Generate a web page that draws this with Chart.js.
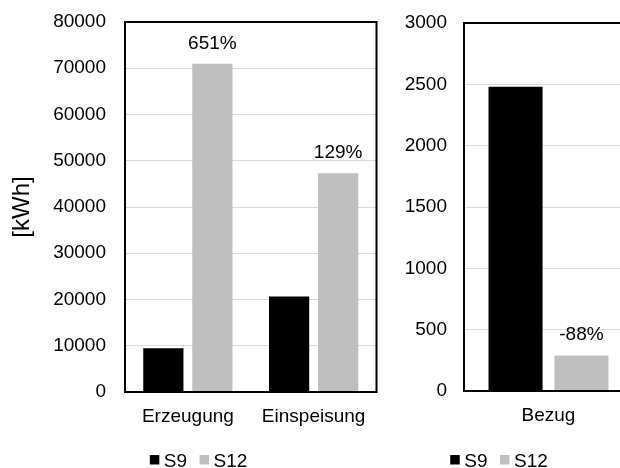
<!DOCTYPE html>
<html>
<head>
<meta charset="utf-8">
<script src="https://cdn.jsdelivr.net/npm/chart.js@4/dist/chart.umd.min.js"></script>
<style>
  html, body { margin: 0; padding: 0; background: #fff; overflow: hidden; width: 620px; height: 468px; }
  .panel { position: absolute; top: 0; }
  #left { left: 0; }
  #right { left: 390px; }
</style>
</head>
<body>
<div class="panel" id="left"><canvas id="c1" width="390" height="468"></canvas></div>
<div class="panel" id="right"><canvas id="c2" width="250" height="468"></canvas></div>
<script>
// Series
const seriesNames = ['S9', 'S12'];
const seriesColors = ['#000000', '#bfbfbf'];

// Left panel: generation and feed-in
const leftCategories = ['Erzeugung', 'Einspeisung'];
const leftS9 = [9450, 20650];
const leftS12 = [71000, 47300];
const leftTicks = [0, 10000, 20000, 30000, 40000, 50000, 60000, 70000, 80000];

// Right panel: grid purchase
const rightCategories = ['Bezug'];
const rightS9 = [2480];
const rightS12 = [290];
const rightTicks = [0, 500, 1000, 1500, 2000, 2500, 3000];

const FONT = "'Liberation Sans', Arial, sans-serif";
const TEXT = '#000000';

// Frame around the plot area, drawn over the bars like the axis line
const frame = {
  id: 'frame',
  afterDatasetsDraw(chart) {
    const { ctx, chartArea: a } = chart;
    ctx.save();
    ctx.strokeStyle = '#000';
    ctx.lineWidth = 2;
    ctx.strokeRect(a.left, a.top, a.right - a.left, a.bottom - a.top);
    ctx.restore();
  }
};

// Relative change of S12 against S9, written above each S12 bar
const changeLabels = {
  id: 'changeLabels',
  afterDatasetsDraw(chart) {
    const { ctx } = chart;
    const base = chart.data.datasets[0].data;
    const cur = chart.data.datasets[1].data;
    const meta = chart.getDatasetMeta(1);
    ctx.save();
    ctx.font = '19px ' + FONT;
    ctx.fillStyle = TEXT;
    ctx.textAlign = 'center';
    ctx.textBaseline = 'alphabetic';
    meta.data.forEach((el, i) => {
      const pct = Math.round((cur[i] / base[i] - 1) * 100);
      ctx.fillText(pct + '%', el.x, el.y - 15);
    });
    ctx.restore();
  }
};

// Compact legend (small squares, tight spacing) centred at a given x
function boxLegend(centerX) {
  return {
    id: 'boxLegend',
    afterDraw(chart) {
      const { ctx } = chart;
      const box = 9.5, gap = 4.5, spacing = 12.5, baseline = 466.5;
      ctx.save();
      ctx.font = '19px ' + FONT;
      ctx.textBaseline = 'alphabetic';
      ctx.textAlign = 'left';
      const items = chart.data.datasets.map(d => ({ label: d.label, color: d.backgroundColor, w: ctx.measureText(d.label).width }));
      const total = items.reduce((s, it) => s + box + gap + it.w, 0) + spacing * (items.length - 1);
      let x = centerX - total / 2;
      items.forEach(it => {
        ctx.fillStyle = it.color;
        ctx.fillRect(x, baseline - 11.5, box, box);
        x += box + gap;
        ctx.fillStyle = TEXT;
        ctx.fillText(it.label, x, baseline);
        x += it.w + spacing;
      });
      ctx.restore();
    }
  };
}

function makeChart(canvasId, categories, s9, s12, ticks, opts) {
  return new Chart(document.getElementById(canvasId), {
    type: 'bar',
    data: {
      labels: categories,
      datasets: [
        { label: seriesNames[0], data: s9, backgroundColor: seriesColors[0] },
        { label: seriesNames[1], data: s12, backgroundColor: seriesColors[1] }
      ]
    },
    options: {
      responsive: false,
      animation: false,
      devicePixelRatio: 1,
      layout: { padding: opts.padding },
      datasets: { bar: { categoryPercentage: 0.78, barPercentage: 0.82, borderWidth: 0 } },
      plugins: { legend: { display: false }, tooltip: { enabled: false } },
      scales: {
        x: {
          grid: { display: false, drawTicks: false },
          border: { display: false },
          ticks: { color: TEXT, font: { family: FONT, size: 19 }, padding: 13 },
          afterFit(scale) {
            scale.height = opts.xHeight;
            scale.paddingLeft = 0;
            scale.paddingRight = 0;
          }
        },
        y: {
          min: ticks[0],
          max: ticks[ticks.length - 1],
          grid: { color: '#d9d9d9', lineWidth: 1, drawTicks: false },
          border: { display: false },
          ticks: {
            color: TEXT,
            font: { family: FONT, size: 19 },
            padding: opts.tickPad,
            callback: v => String(v)
          },
          afterBuildTicks(scale) { scale.ticks = ticks.map(v => ({ value: v })); },
          title: opts.title
            ? { display: true, text: opts.title, color: TEXT, font: { family: FONT, size: 24 }, padding: 0 }
            : { display: false },
          afterFit(scale) {
            scale.width = opts.yWidth;
            scale.paddingTop = 0;
            scale.paddingBottom = 0;
          }
        }
      }
    },
    plugins: [frame, changeLabels, boxLegend(opts.legendX)]
  });
}

makeChart('c1', leftCategories, leftS9, leftS12, leftTicks, {
  padding: { left: 8, right: 13.5, top: 22, bottom: 0 },
  yWidth: 117, xHeight: 76, tickPad: 19, title: '[kWh]', legendX: 198.6
});

makeChart('c2', rightCategories, rightS9, rightS12, rightTicks, {
  padding: { left: 0, right: 7, top: 23, bottom: 0 },
  yWidth: 74, xHeight: 77, tickPad: 17, title: null, legendX: 109
});
</script>
</body>
</html>
